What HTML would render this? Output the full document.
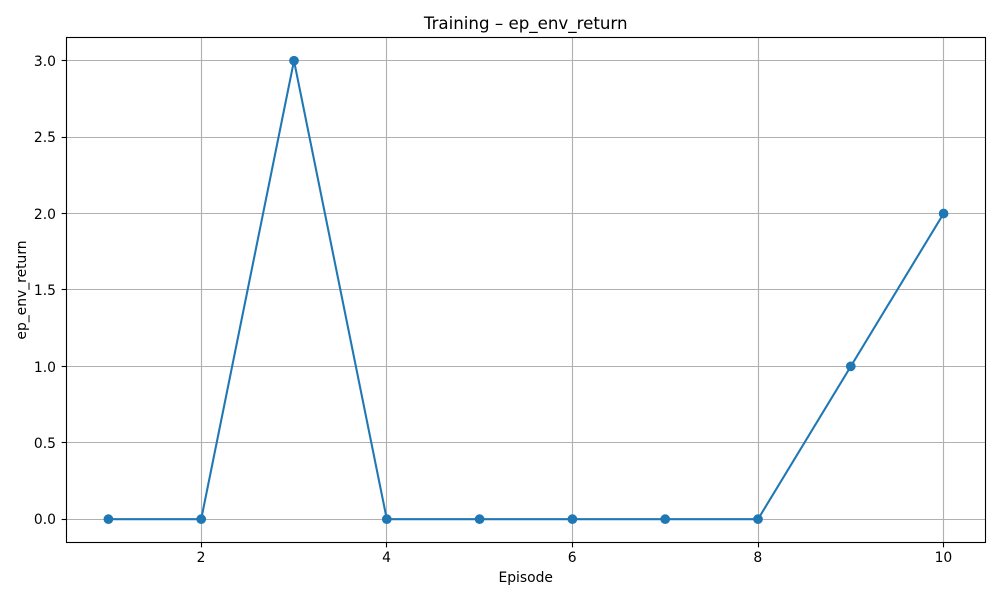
<!DOCTYPE html>
<html lang="en">
<head>
<meta charset="utf-8">
<title>Training – ep_env_return</title>
<style>
html,body{margin:0;padding:0;background:#fff;width:1000px;height:600px;overflow:hidden}
svg{display:block}
text{font-family:"DejaVu Sans",sans-serif;fill:#000}
</style>
</head>
<body>
<svg id="chart" width="1000" height="600" viewBox="0 0 1000 600" xmlns="http://www.w3.org/2000/svg">
<g id="grid"></g>
<g id="series"></g>
<g id="ticks"></g>
<rect x="66.5" y="37.5" width="919" height="505" fill="none" stroke="#000" stroke-width="1.11"/>
<text x="525.7" y="29" font-size="16.67" text-anchor="middle">Training – ep_env_return</text>
<text x="525.7" y="582" font-size="13.89" text-anchor="middle">Episode</text>
<text transform="translate(26,290) rotate(-90)" font-size="13.89" text-anchor="middle">ep_env_return</text>
</svg>
<script>
const episodes = [1, 2, 3, 4, 5, 6, 7, 8, 9, 10];
const returns = [0, 0, 3, 0, 0, 0, 0, 0, 1, 2];
const xTickLabels = ["2", "4", "6", "8", "10"];
const yTickLabels = ["0.0", "0.5", "1.0", "1.5", "2.0", "2.5", "3.0"];

const NS = 'http://www.w3.org/2000/svg';
const plot = {left: 66.64, right: 985.36, top: 37.8, bottom: 542.1};
const xDomain = {min: 0.55, max: 10.45};
const yDomain = {min: -0.15, max: 3.15};
function xScale(v) {
  return plot.left + (v - xDomain.min) / (xDomain.max - xDomain.min) * (plot.right - plot.left);
}
function yScale(v) {
  return plot.bottom - (v - yDomain.min) / (yDomain.max - yDomain.min) * (plot.bottom - plot.top);
}
function snap(v) {
  return Math.floor(v) + 0.5;
}
function make(tag, attrs, parent) {
  const el = document.createElementNS(NS, tag);
  for (const k in attrs) el.setAttribute(k, attrs[k]);
  parent.appendChild(el);
  return el;
}
const grid = document.getElementById('grid');
const ticks = document.getElementById('ticks');
const series = document.getElementById('series');
const frame = {left: 66.5, right: 985.5, top: 37.5, bottom: 542.5};

xTickLabels.forEach(function (label) {
  const raw = xScale(Number(label));
  const x = snap(raw);
  const g = make('line', {x1: x, x2: x, y1: frame.top, y2: frame.bottom, stroke: '#b0b0b0', 'stroke-width': 1.11}, grid);
  
  
  const t = make('line', {x1: x, x2: x, y1: frame.bottom, y2: frame.bottom + 4.86, stroke: '#000', 'stroke-width': 1.11}, ticks);
  
  
  const l = make('text', {x: raw - 0.2, y: 562, 'font-size': 13.89, 'text-anchor': 'middle'}, ticks);
  
  
  l.textContent = label;
});

yTickLabels.forEach(function (label) {
  const raw = yScale(Number(label));
  const y = snap(raw);
  const g = make('line', {x1: frame.left, x2: frame.right, y1: y, y2: y, stroke: '#b0b0b0', 'stroke-width': 1.11}, grid);
  
  
  const t = make('line', {x1: frame.left - 4.86, x2: frame.left, y1: y, y2: y, stroke: '#000', 'stroke-width': 1.11}, ticks);
  
  
  const l = make('text', {x: 56, y: Math.round(raw + 5.2), 'font-size': 13.89, 'text-anchor': 'end'}, ticks);
  
  
  l.textContent = label;
});

const pts = episodes.map(function (e, i) {
  return xScale(e) + ',' + yScale(returns[i]);
}).join(' ');
const line = make('polyline', {points: pts, fill: 'none', stroke: '#1f77b4', 'stroke-width': 2.08, 'stroke-linejoin': 'round', 'stroke-linecap': 'square'}, series);



episodes.forEach(function (e, i) {
  const c = make('circle', {cx: xScale(e), cy: yScale(returns[i]), r: 4.17, fill: '#1f77b4', stroke: '#1f77b4', 'stroke-width': 1.39}, series);
  
  
});
</script>
</body>
</html>
